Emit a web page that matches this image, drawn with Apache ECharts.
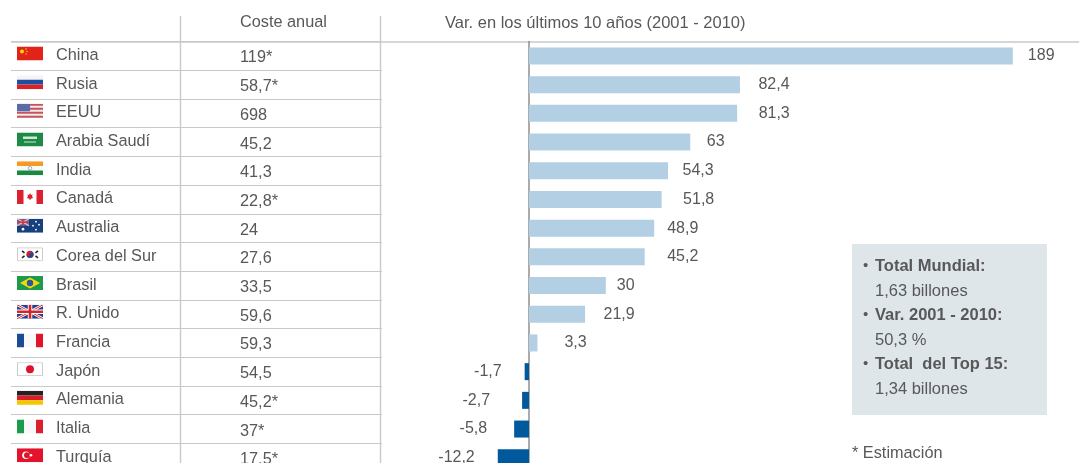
<!DOCTYPE html>
<html>
<head>
<meta charset="utf-8">
<style>
  html, body { margin: 0; padding: 0; background: #fff; }
  #chart { width: 1079px; height: 463px; }
</style>
<script src="https://cdn.jsdelivr.net/npm/echarts@6/dist/echarts.min.js"></script>
</head>
<body>
<div id="chart"></div>
<script>
const paises = ['China', 'Rusia', 'EEUU', 'Arabia Saudí', 'India', 'Canadá', 'Australia', 'Corea del Sur', 'Brasil', 'R. Unido', 'Francia', 'Japón', 'Alemania', 'Italia', 'Turquía']
const costeAnual = ['119*', '58,7*', '698', '45,2', '41,3', '22,8*', '24', '27,6', '33,5', '59,6', '59,3', '54,5', '45,2*', '37*', '17,5*']
const variacion = [189, 82.4, 81.3, 63, 54.3, 51.8, 48.9, 45.2, 30, 21.9, 3.3, -1.7, -2.7, -5.8, -12.2]
const cabeceras = ['Coste anual', 'Var. en los últimos 10 años (2001 - 2010)']
const resumen = ['Total Mundial:', '1,63 billones', 'Var. 2001 - 2010:', '50,3 %', 'Total  del Top 15:', '1,34 billones']
const nota = '* Estimación'

// the source sets its bar labels in loose columns, so the gap differs per bar
const separacion = [15, 18.5, 21.5, 16.5, 14.5, 21.5, 13, 22.5, 11, 18.5, 27, 23, 32, 27, 23]

const gris = '#58585a'
const fuente = '"Liberation Sans", Arial, sans-serif'
const tam = 16.3

// flags, 26x14
const bandaH = (c) => c.map((col, i) => `<rect y="${i * 14 / c.length}" width="26" height="${14 / c.length + 0.1}" fill="${col}"/>`).join('')
const bandaV = (c) => `<rect width="7" height="14" fill="${c[0]}"/><rect x="7" width="12" height="14" fill="${c[1]}"/><rect x="19" width="7" height="14" fill="${c[2]}"/>`
const banderas = [
  '<rect width="26" height="14" fill="#e2231a"/><circle cx="5" cy="5" r="2" fill="#fd0"/><circle cx="9" cy="2.5" r=".7" fill="#fd0"/><circle cx="10" cy="5" r=".7" fill="#fd0"/><circle cx="9" cy="7.5" r=".7" fill="#fd0"/>',
  bandaH(['#f4f4f4', '#1c4fa0', '#d8232a']),
  bandaH(['#c9525a', '#eee', '#c9525a', '#eee', '#c9525a', '#eee', '#c9525a']) + '<rect width="13" height="7.5" fill="#5b6ba8"/>',
  '<rect width="26" height="14" fill="#1d8a45"/><rect x="6" y="4" width="14" height="2.5" fill="#cfe8d6"/><rect x="7" y="9" width="12" height="1" fill="#cfe8d6"/>',
  bandaH(['#f59a23', '#f8f8f8', '#1b8a3e']) + '<circle cx="13" cy="7" r="1.8" fill="none" stroke="#6a7fb0" stroke-width=".6"/>',
  '<rect width="26" height="14" fill="#fff"/><rect width="6.5" height="14" fill="#dc2030"/><rect x="19.5" width="6.5" height="14" fill="#dc2030"/><path d="M13 3l1 2 1.5-.5-.5 2.5 1-.2-.5 1.5-2 .5V10h-1V8.8l-2-.5-.5-1.5 1 .2-.5-2.5 1.5.5z" fill="#dc2030"/>',
  '<rect width="26" height="14" fill="#17407f"/><rect width="12" height="7" fill="#5d6fa3"/><path d="M0 0l12 7M12 0L0 7" stroke="#e9c3c8" stroke-width="1.2"/><path d="M6 0v7M0 3.5h12" stroke="#e0333c" stroke-width="1.5"/><circle cx="6" cy="10.5" r="1.3" fill="#fff"/><circle cx="19" cy="3" r=".9" fill="#fff"/><circle cx="19" cy="11" r=".9" fill="#fff"/><circle cx="16" cy="7" r=".9" fill="#fff"/><circle cx="22" cy="6" r=".9" fill="#fff"/>',
  '<rect x=".5" y=".5" width="25" height="13" fill="#fff" stroke="#ccc"/><circle cx="13" cy="7" r="3.6" fill="#d0202e"/><path d="M9.4 7a3.6 3.6 0 0 0 7.2 0 1.8 1.8 0 0 0-3.6 0 1.8 1.8 0 0 1-3.6 0z" fill="#1a4a9c"/><path d="M5 3.5l2.5 2M5 10.5l2.5-2M21 3.5l-2.5 2M21 10.5l-2.5-2" stroke="#222" stroke-width="1.6"/>',
  '<rect width="26" height="14" fill="#1d9a4a"/><path d="M13 1.5L23 7 13 12.5 3 7z" fill="#f5d90a"/><circle cx="13" cy="7" r="3.2" fill="#2a5a9c"/>',
  '<rect width="26" height="14" fill="#23408e"/><path d="M0 0l26 14M26 0L0 14" stroke="#fff" stroke-width="2.6"/><path d="M0 0l26 14M26 0L0 14" stroke="#d8232a" stroke-width="1"/><path d="M13 0v14M0 7h26" stroke="#fff" stroke-width="4.5"/><path d="M13 0v14M0 7h26" stroke="#d8232a" stroke-width="2.6"/>',
  bandaV(['#1c4a93', '#f8f8f8', '#e2142d']),
  '<rect x=".5" y=".5" width="25" height="13" fill="#fff" stroke="#ccc"/><circle cx="13" cy="7" r="4" fill="#e0102f"/>',
  bandaH(['#222', '#d81e26', '#f7c600']),
  bandaV(['#1e9a4c', '#f8f8f8', '#d9202e']),
  '<rect width="26" height="14" fill="#e2142d"/><circle cx="9" cy="7" r="3.8" fill="#fff"/><circle cx="10" cy="7" r="3" fill="#e2142d"/><circle cx="14" cy="7" r="1.3" fill="#fff"/>'
]
const banderaUri = (svg) => 'data:image/svg+xml;charset=utf-8,' + encodeURIComponent(`<svg xmlns="http://www.w3.org/2000/svg" width="52" height="28" viewBox="0 0 26 14">${svg}</svg>`)

const richPaises = { n: { color: gris, fontSize: tam, fontFamily: fuente, padding: [4, 0, 0, 13] } }
banderas.forEach((b, i) => {
  richPaises['f' + i] = { width: 26, height: 14, backgroundColor: { image: banderaUri(b) } }
})

const numero = (v) => String(v).replace('.', ',')

// text lines of the grey box
const lineasResumen = resumen.map((t, i) => ({
  type: 'text',
  left: 875,
  top: 258 + i * 24.6,
  style: { text: t, fill: gris, fontSize: 16.5, fontFamily: fuente, fontWeight: i % 2 ? 'normal' : 'bold' }
}))
const vinetas = [0, 2, 4].map((i) => ({
  type: 'text',
  left: 863,
  top: 258 + i * 24.6,
  style: { text: '•', fill: gris, fontSize: 15, fontFamily: fuente }
}))
const linea = (x1, y1, x2, y2) => ({
  type: 'line',
  shape: { x1, y1, x2, y2 },
  style: { stroke: '#c9c9c9', lineWidth: 1.4 }
})

const chart = echarts.init(document.getElementById('chart'), null, { renderer: 'canvas' })
chart.setOption({
  animation: false,
  backgroundColor: '#fff',
  grid: [
    { left: 11, top: 41.6, width: 371, height: 430.5, outerBoundsMode: 'none' },
    { left: 375.4, top: 41.6, width: 691.2, height: 430.5, outerBoundsMode: 'none' }
  ],
  xAxis: [
    { gridIndex: 0, type: 'value', show: false },
    { gridIndex: 1, type: 'value', min: -60, max: 210, show: false }
  ],
  yAxis: [
    {
      gridIndex: 0,
      type: 'category',
      inverse: true,
      data: paises,
      axisLine: { show: false },
      axisTick: { show: false },
      splitLine: { show: true, lineStyle: { color: '#c9c9c9', width: 1.2 } },
      axisLabel: {
        inside: true,
        interval: 0,
        margin: 6,
        padding: [0, 0, 5, 0],
        formatter: (v, i) => `{f${i}|}{n|${v}}`,
        rich: richPaises
      }
    },
    {
      gridIndex: 0,
      type: 'category',
      position: 'left',
      inverse: true,
      data: costeAnual,
      axisLine: { show: false },
      axisTick: { show: false },
      splitLine: { show: false },
      axisLabel: {
        inside: true,
        interval: 0,
        margin: 229,
        formatter: (v) => `{c|${v}}`,
        rich: { c: { color: gris, fontSize: tam, fontFamily: fuente, padding: [4, 0, 0, 0] } }
      }
    },
    {
      gridIndex: 1,
      type: 'category',
      inverse: true,
      data: paises,
      axisLine: { onZero: true, lineStyle: { color: '#8f8f8f', width: 1.5 } },
      axisTick: { show: false },
      axisLabel: { show: false },
      splitLine: { show: false }
    }
  ],
  series: [{
    type: 'bar',
    xAxisIndex: 1,
    yAxisIndex: 2,
    barWidth: 17,
    data: variacion.map((v, i) => ({
      value: v,
      itemStyle: { color: v < 0 ? '#00599d' : '#b3cfe3' },
      label: { position: v < 0 ? 'left' : 'right', distance: separacion[i] }
    })),
    label: {
      show: true,
      color: gris,
      fontSize: 16,
      fontFamily: fuente,
      padding: [0, 0, 2, 0],
      formatter: (p) => numero(p.value)
    }
  }],
  graphic: [
    linea(11, 42, 1079, 42),
    linea(180.5, 16, 180.5, 463),
    linea(380.5, 16, 380.5, 463),
    { type: 'text', left: 240, top: 14.5, style: { text: cabeceras[0], fill: gris, fontSize: tam, fontFamily: fuente } },
    { type: 'text', left: 445, top: 14.5, style: { text: cabeceras[1], fill: gris, fontSize: tam + 0.2, fontFamily: fuente } },
    { type: 'rect', z: -1, shape: { x: 852, y: 244, width: 195, height: 171 }, style: { fill: '#dfe6e9' } },
    ...lineasResumen,
    ...vinetas,
    { type: 'text', left: 852, top: 446, style: { text: nota, fill: gris, fontSize: tam, fontFamily: fuente } }
  ]
})
</script>
</body>
</html>
